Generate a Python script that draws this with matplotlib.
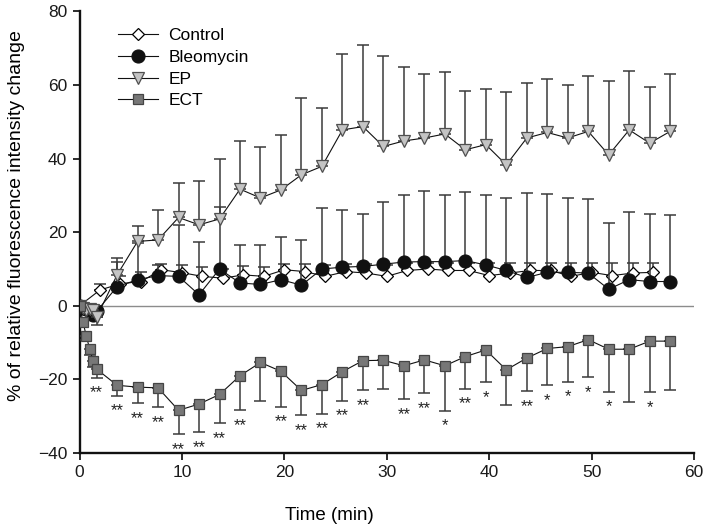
import matplotlib
matplotlib.use("Agg")
import matplotlib.pyplot as plt
from matplotlib.lines import Line2D
import numpy as np

plt.rcParams['font.family'] = ['Liberation Sans', 'DejaVu Sans']

# ---------------- data ----------------
t_main = [0, 0.33, 0.67, 1.0, 1.33, 1.67, 3.67, 5.67, 7.67, 9.67, 11.67, 13.67, 15.67,
          17.67, 19.67, 21.67, 23.67, 25.67, 27.67, 29.67, 31.67, 33.67, 35.67, 37.67,
          39.67, 41.67, 43.67, 45.67, 47.67, 49.67, 51.67, 53.67, 55.67, 57.67]

t_control = [0, 2, 4, 6, 8, 10, 12, 14, 16, 18, 20, 22, 24, 26, 28, 30, 32, 34, 36,
             38, 40, 42, 44, 46, 48, 50, 52, 54, 56]
control = [0, 4.3, 6.0, 6.6, 9.8, 9.0, 8.0, 7.5, 8.4, 8.0, 9.8, 9.3, 8.0, 9.3, 8.9,
           8.0, 9.6, 10.0, 9.6, 9.6, 8.2, 8.9, 9.6, 9.6, 8.0, 9.1, 8.2, 8.9, 9.1]
control_sd = [0, 1.5, 2.0, 2.6, 1.5, 2.0, 2.5, 2.5, 2.4, 2.6, 1.5, 2.0, 3.0, 2.0, 2.4,
              3.2, 2.0, 1.7, 2.0, 2.0, 3.4, 2.7, 2.0, 2.0, 3.6, 2.5, 3.4, 2.7, 2.5]

bleomycin = [0, -0.5, -1.0, -1.5, -2.5, -1.5, 5.2, 7.1, 8.2, 8.0, 3.0, 10.0, 6.2, 5.8,
             7.1, 5.6, 10.0, 10.5, 10.7, 11.3, 11.9, 12.0, 12.0, 12.3, 11.1, 9.6, 7.7,
             9.1, 9.1, 8.9, 4.5, 7.1, 6.6, 6.6]
bleomycin_sd = [0, 0.5, 0.5, 1.0, 1.0, 1.5, 6.8, 10.0, 2.9, 14.0, 14.3, 16.8, 10.4, 10.8,
                11.6, 12.3, 16.7, 15.6, 14.3, 16.9, 18.1, 19.3, 18.2, 18.6, 18.9, 19.8,
                22.9, 21.3, 20.2, 20.1, 17.9, 18.5, 18.3, 18.0]

ep = [0, -0.5, -1.2, -0.8, -1.1, -3.1, 8.4, 17.5, 17.9, 24.0, 22.0, 23.6, 31.7, 29.3,
      31.5, 35.6, 37.9, 47.8, 48.7, 43.3, 44.8, 45.6, 46.7, 42.4, 43.8, 38.3, 45.6,
      47.1, 45.6, 47.4, 41.0, 47.8, 44.2, 47.4]
ep_sd = [0, 0.5, 0.8, 1.0, 1.0, 2.0, 4.7, 4.1, 8.1, 9.4, 12.0, 16.3, 13.0, 13.8, 14.8,
         21.0, 15.9, 20.7, 22.2, 24.7, 20.0, 17.3, 16.9, 15.9, 15.2, 19.9, 15.0, 14.5,
         14.4, 15.0, 20.2, 15.9, 15.3, 15.6]

ect = [0, -4.3, -8.3, -11.8, -15.0, -17.2, -21.6, -22.1, -22.3, -28.4, -26.7, -24.1,
       -19.0, -15.4, -17.8, -23.0, -21.4, -17.9, -14.9, -14.8, -16.3, -14.7, -16.3,
       -13.8, -12.0, -17.4, -14.2, -11.6, -11.1, -9.2, -11.8, -11.8, -9.6, -9.6]
ect_sd = [0, 0.5, 1.0, 1.5, 1.5, 2.3, 2.8, 4.4, 5.3, 6.4, 7.7, 7.8, 9.3, 10.4, 9.6, 6.8,
          7.9, 7.9, 8.0, 7.8, 9.0, 9.0, 12.2, 8.7, 8.7, 9.5, 9.0, 9.9, 9.5, 10.2, 11.5,
          14.3, 13.8, 13.2]
ect_stars = ['', '', '', '', '', '**', '**', '**', '**', '**', '**', '**', '**', '',
             '**', '**', '**', '**', '**', '', '**', '**', '*', '**', '*', '', '**',
             '*', '*', '*', '*', '', '*', '']

series_names = ['Control', 'Bleomycin', 'EP', 'ECT']
x_ticks = [0, 10, 20, 30, 40, 50, 60]
y_ticks = [-40, -20, 0, 20, 40, 60, 80]

# ---------------- figure ----------------
fig = plt.figure(figsize=(7.08, 5.31), dpi=100)
ax = fig.add_axes([0.1123, 0.1469, 0.868, 0.8316])

ax.axhline(0, color='#8c8c8c', lw=1.0, zorder=1)

styles = [
    dict(marker='D', ms=6.6, mfc='white', mec='black', mew=0.9),
    dict(marker='o', ms=9.4, mfc='#111111', mec='#111111', mew=0.8),
    dict(marker='v', ms=8.8, mfc='#c4c4c4', mec='#505050', mew=0.9),
    dict(marker='s', ms=7.9, mfc='#777777', mec='#454545', mew=0.9),
]
data = [(t_control, control, control_sd), (t_main, bleomycin, bleomycin_sd),
        (t_main, ep, ep_sd), (t_main, ect, ect_sd)]

for i, ((tx, vals, sd), st) in enumerate(zip(data, styles)):
    vals = np.array(vals, float)
    sd = np.array(sd, float)
    lower = np.where(vals < 0, sd, 0)
    upper = np.where(vals >= 0, sd, 0)
    z = 2 + i * 2
    ax.errorbar(tx, vals, yerr=[lower, upper], fmt='none', ecolor='#3a3a3a',
                elinewidth=1.1, capsize=4.3, capthick=1.1, zorder=z)
    ax.plot(tx, vals, color='#111111', lw=0.8, zorder=z + 1, **st)

ect_arr = np.array(ect)
sd_arr = np.array(ect_sd)
for tx, v, s, lab in zip(t_main, ect_arr, sd_arr, ect_stars):
    if lab:
        ax.annotate(lab, (tx, v - s), xytext=(0, -11), textcoords='offset points',
                    ha='center', va='center', fontsize=12, color='#222222')

ax.set_xlim(0, 60)
ax.set_ylim(-40, 80)
ax.set_xticks(x_ticks)
ax.set_yticks(y_ticks)
for sp in ['top', 'right']:
    ax.spines[sp].set_visible(False)
for sp in ['left', 'bottom']:
    ax.spines[sp].set_linewidth(1.7)
    ax.spines[sp].set_color('#111111')
ax.tick_params(direction='out', length=5, width=1.3, labelsize=12.5, pad=4,
               colors='#1a1a1a')

ax.set_xlabel('Time (min)', fontsize=13.5)
ax.xaxis.set_label_coords(0.406, -0.122)
ax.set_ylabel('% of relative fluorescence intensity change', fontsize=14)
ax.yaxis.set_label_coords(-0.089, 0.537)

handles = [Line2D([0], [0], color='#111111', lw=0.8, **st) for st in styles]
leg = ax.legend(handles, series_names, loc='upper left', frameon=False, fontsize=12.5,
                bbox_to_anchor=(0.051, 0.978), handlelength=2.3, handletextpad=0.6,
                labelspacing=0.38, borderaxespad=0)

fig.savefig('out.png', dpi=100)
